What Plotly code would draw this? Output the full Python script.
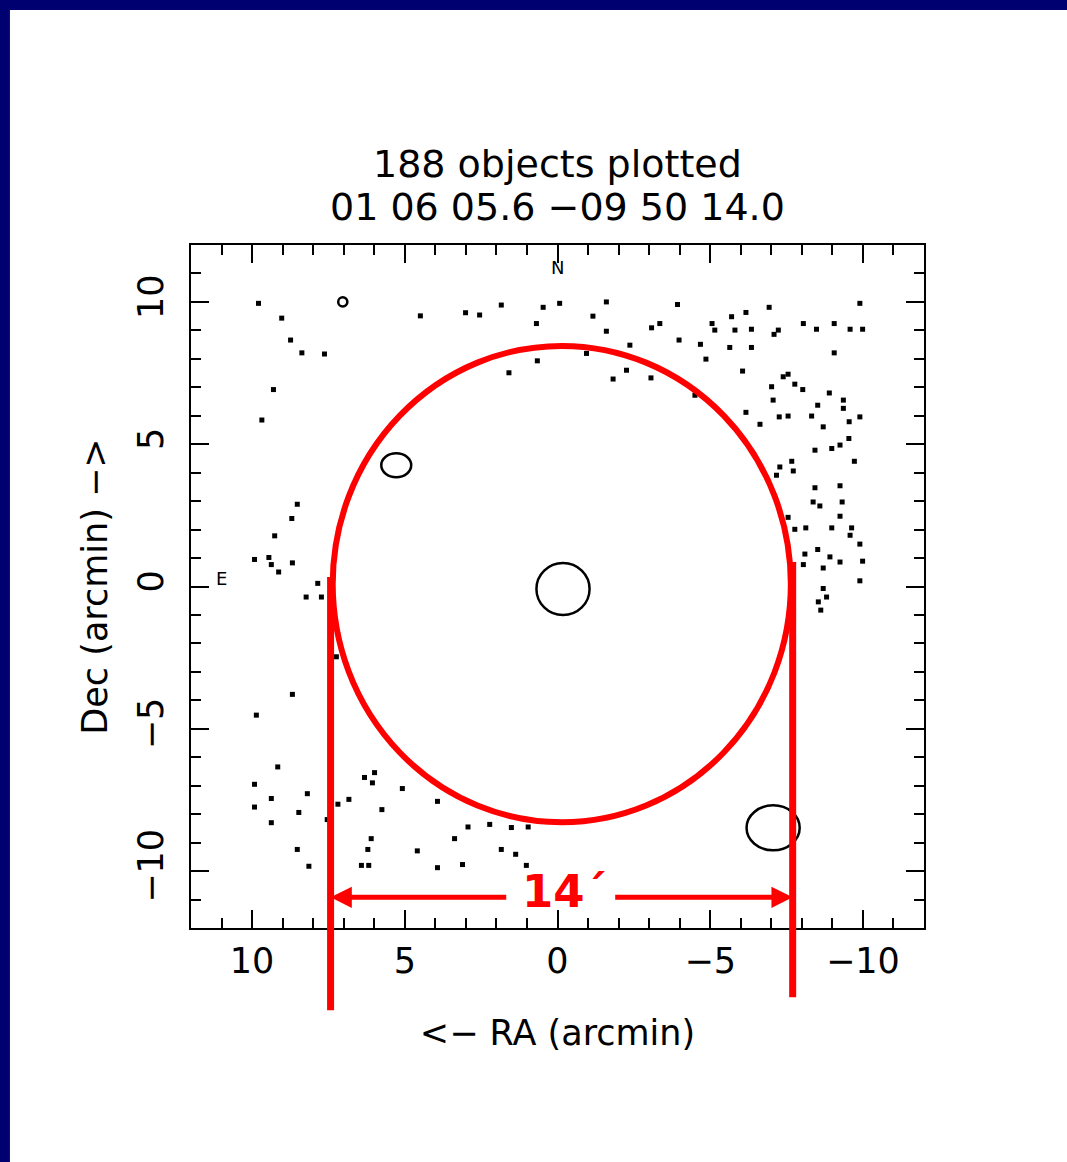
import plotly.graph_objects as go

# ---- data (arcmin offsets from field centre) ----
ra_stars = [9.79, 9.03, 8.74, 8.37, 7.63, 9.30, 9.68, 4.49, 3.01, 2.55, 1.84, 0.69, 0.47, -0.07, 0.66, 1.59,
            8.52, 8.70, 9.26, 9.92, 9.45, 9.37, 9.13, 8.68, 7.85,
            -1.60, -1.16, -3.93, -6.93, -9.90, -1.60, -2.37, -0.95, -1.82, -2.26, -3.06, -3.35, -3.08, -3.98,
            -4.68, -4.86, -4.50, -5.06, -5.15, -5.70, -6.17, -5.81, -6.35, -5.64, -6.35, -6.06, -7.23, -7.09,
            -8.05, -8.48, -9.06, -9.58, -9.99, -9.06, -7.39, -7.55, -7.01, -7.77, -8.03, -8.90, -7.06, -8.52,
            -9.36, -9.36, -6.17, -6.63, -7.26, -7.55, -8.32, -8.70, -9.55, -9.90, -9.54, -9.25, -8.98, -8.43,
            -9.72, -7.67, -7.28, -7.72, -7.17, -8.43, -9.25, -8.37, -8.59, -9.32, -9.25, -7.55, -7.77, -8.13,
            -8.98, -9.63, -9.58, -9.90, -8.10, -8.52, -8.92, -9.25, -9.99, -8.05, -8.70, -9.90, -8.70, -8.81,
            -8.54, -8.62,
            8.23, 7.73, 7.24, 8.68, 9.86, 9.16, 9.92, 8.19, 9.37, 9.92, 8.47, 9.37, 7.54, 8.52, 8.14, 7.19,
            6.83, 6.32, 5.99, 6.06, 5.08, 5.75, 3.93, 6.10, 6.21, 6.42, 6.18, 4.59, 3.93, 3.37, 3.11, 2.93,
            2.22, 1.51, 0.96, 1.84, 1.37, 1.02]
dec_stars = [9.95, 9.43, 8.66, 8.21, 8.17, 6.92, 5.85, 9.51, 9.62, 9.54, 9.89, 9.24, 9.81, 9.95, 7.93, 7.51,
             2.89, 2.39, 1.78, 0.95, 1.02, 0.77, 0.51, 0.83, 0.11,
             10.00, 9.50, 9.91, 9.81, 9.95, 8.97, 8.48, 8.19, 7.29, 7.60, 7.33, 9.24, 9.09, 8.66,
             8.51, 7.99, 6.72, 9.24, 9.01, 9.48, 9.63, 9.01, 9.04, 8.40, 8.40, 7.57, 9.01, 8.86,
             9.24, 9.04, 9.24, 9.04, 9.04, 8.21, 7.37, 7.46, 7.02, 7.11, 6.92, 6.80, 6.55, 6.37,
             6.55, 6.26, 6.12, 5.70, 5.96, 5.99, 5.99, 5.61, 5.79, 5.96, 5.20, 4.97, 4.85, 4.79,
             4.40, 4.40, 4.20, 4.06, 3.91, 3.47, 3.54, 2.97, 2.83, 2.97, 2.47, 2.43, 2.01, 2.06,
             2.06, 2.06, 1.80, 1.49, 1.14, 1.30, 1.04, 0.86, 0.89, 0.77, 0.65, 0.20, -0.07, -0.37,
             -0.54, -0.83,
             -0.37, -0.37, -2.47, -3.79, -4.52, -6.34, -6.95, -7.28, -7.45, -7.75, -7.94, -8.30, -8.19, -9.24, -9.83, -7.65,
             -7.48, -6.71, -6.54, -6.90, -7.10, -7.84, -7.55, -8.86, -9.24, -9.80, -9.80, -9.29, -9.88, -8.86, -9.77, -8.45,
             -8.36, -8.47, -8.45, -9.24, -9.41, -9.80]

# extended objects drawn as ellipses: centre and full width/height (arcmin)
obj_ra = [7.03, 5.28, -0.18, -7.06]
obj_dec = [10.00, 4.26, -0.09, -8.48]
obj_w = [0.30, 0.98, 1.74, 1.74]
obj_h = [0.32, 0.84, 1.83, 1.58]

# red field-of-view overlay (arcmin)
fov_ra, fov_dec = -0.14, 0.085
fov_rx, fov_ry = 7.50, 8.37
marker_lines_ra = [7.43, -7.70]
arrow_dec = -10.92
arrow_tail_ra = [1.63, -1.84]
label_text = "14´"
label_ra = -0.24

title_lines = ["188 objects plotted", "01 06 05.6 −09 50 14.0"]
x_ticks = [10, 5, 0, -5, -10]
y_ticks = [-10, -5, 0, 5, 10]

FONT = "DejaVu Sans"
RED = "#ff0000"

fig = go.Figure()
fig.add_trace(go.Scatter(
    x=ra_stars, y=dec_stars, mode="markers",
    marker=dict(symbol="square", size=5, color="black", line=dict(width=0)),
    showlegend=False, hoverinfo="x+y"))

shapes = []
for r, d, w, h in zip(obj_ra, obj_dec, obj_w, obj_h):
    shapes.append(dict(type="circle", xref="x", yref="y",
                       x0=r - w / 2, x1=r + w / 2, y0=d - h / 2, y1=d + h / 2,
                       line=dict(color="black", width=2.5)))

# red circle
shapes.append(dict(type="circle", xref="x", yref="y",
                   x0=fov_ra - fov_rx, x1=fov_ra + fov_rx,
                   y0=fov_dec - fov_ry, y1=fov_dec + fov_ry,
                   line=dict(color=RED, width=6), layer="above"))
# red vertical lines extending below the frame
line_y = [(-0.1205, 0.514), (-0.1015, 0.536)]
for xr, (ya, yb) in zip(marker_lines_ra, line_y):
    shapes.append(dict(type="line", xref="x", yref="paper", x0=xr, x1=xr, y0=ya, y1=yb,
                       line=dict(color=RED, width=7), layer="above"))

# slide border (navy strips at left and top, ~10 px)
NAVY = "#000070"
shapes.append(dict(type="rect", xref="paper", yref="paper", x0=-0.2606, x1=-0.2470,
                   y0=-0.343, y1=1.359, fillcolor=NAVY, line=dict(width=0), layer="above"))
shapes.append(dict(type="rect", xref="paper", yref="paper", x0=-0.2606, x1=1.196,
                   y0=1.3441, y1=1.359, fillcolor=NAVY, line=dict(width=0), layer="above"))

annotations = []
for tail, head in zip(arrow_tail_ra, marker_lines_ra):
    annotations.append(dict(x=head, y=arrow_dec, ax=tail, ay=arrow_dec, xref="x", yref="y",
                            axref="x", ayref="y", text="", showarrow=True,
                            arrowhead=2, arrowsize=0.85, arrowwidth=5, arrowcolor=RED))
annotations.append(dict(x=label_ra, y=arrow_dec, xref="x", yref="y", text="<b>%s</b>" % label_text,
                        showarrow=False, yshift=6,
                        font=dict(family=FONT, size=45, color=RED)))
annotations.append(dict(x=0, y=11.22, xref="x", yref="y", text="N", showarrow=False,
                        font=dict(family=FONT, size=18, color="black")))
annotations.append(dict(x=11.0, y=0.27, xref="x", yref="y", text="E", showarrow=False,
                        font=dict(family=FONT, size=18, color="black")))
for i, t in enumerate(title_lines):
    annotations.append(dict(x=0.5, y=[1.119, 1.056][i], xref="paper", yref="paper", text=t,
                            showarrow=False, yanchor="middle",
                            font=dict(family=FONT, size=38, color="black")))

axis_common = dict(
    showgrid=False, zeroline=False, showline=True, linecolor="black", linewidth=2,
    mirror="allticks", ticks="inside", ticklen=18, tickwidth=2, tickcolor="black",
    tickmode="array",
    minor=dict(dtick=1, ticks="inside", ticklen=10, tickwidth=2, tickcolor="black", showgrid=False),
    tickfont=dict(family=FONT, size=35, color="black"),
    title_font=dict(family=FONT, size=35, color="black"),
)

fig.update_layout(
    width=1067, height=1162,
    margin=dict(l=191, r=143, t=245, b=234),
    paper_bgcolor="white", plot_bgcolor="white",
    xaxis=dict(range=[12, -12], tickvals=x_ticks, ticktext=[str(v).replace("-", "−") for v in x_ticks],
               title=dict(text="<− RA (arcmin)", standoff=40), ticklabelstandoff=1, **axis_common),
    yaxis=dict(range=[-12, 12], tickvals=y_ticks, ticktext=[str(v).replace("-", "−") for v in y_ticks],
               tickangle=-90, title=dict(text="Dec (arcmin) −>", standoff=13), ticklabelstandoff=12,
               **axis_common),
    shapes=shapes, annotations=annotations, showlegend=False,
)

fig.write_html("out.html")
